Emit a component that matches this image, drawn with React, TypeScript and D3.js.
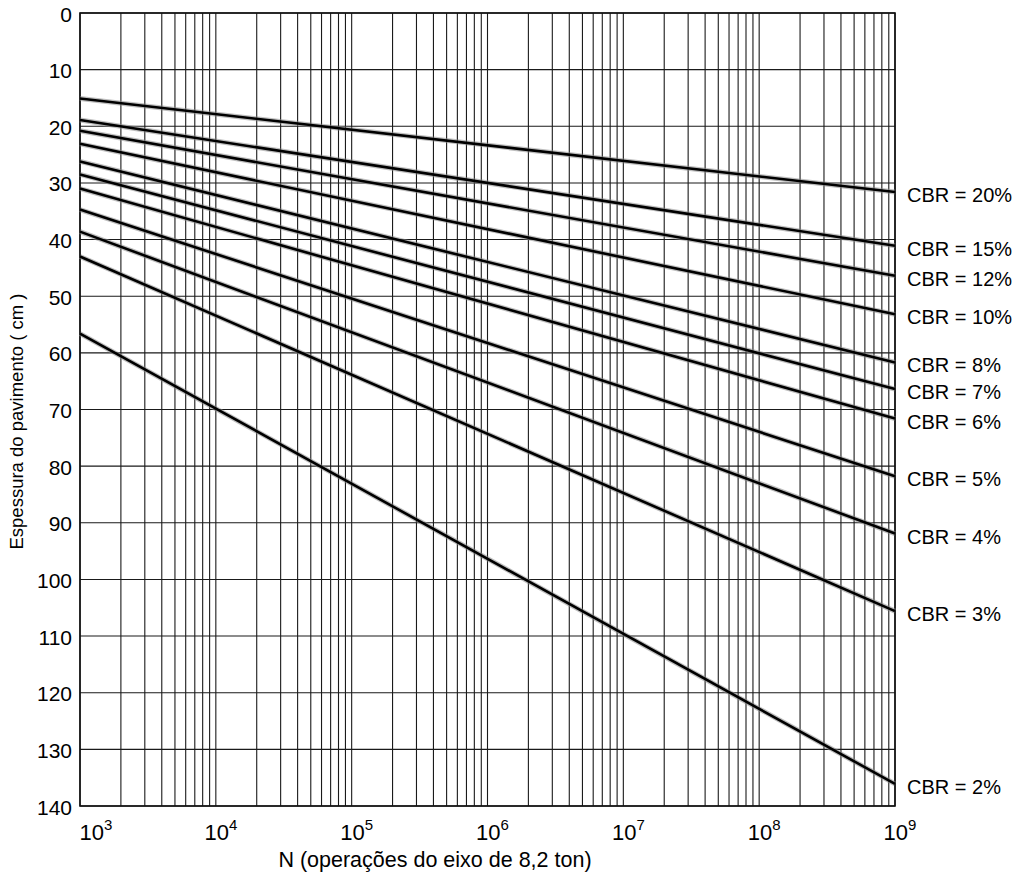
import React from "react";
import * as d3 from "d3";

// Data
const nDomain: [number, number] = [1e3, 1e9];
const cbrLabels = ["20%", "15%", "12%", "10%", "8%", "7%", "6%", "5%", "4%", "3%", "2%"];
const thicknessAtN1e3 = [15.1, 18.9, 20.8, 23.1, 26.2, 28.5, 31.0, 34.7, 38.6, 43.0, 56.6];
const thicknessAtN1e9 = [31.6, 41.1, 46.4, 53.2, 61.7, 66.4, 71.6, 81.8, 91.9, 105.6, 136.1];
const yTickValues = [0, 10, 20, 30, 40, 50, 60, 70, 80, 90, 100, 110, 120, 130, 140];
const xTickExponents = [3, 4, 5, 6, 7, 8, 9];
const xTitle = "N (operações do eixo de 8,2 ton)";
const yTitle = "Espessura do pavimento ( cm )";

const W = 1024;
const H = 882;
const FONT = "'Liberation Sans', Arial, Helvetica, sans-serif";

export default function App() {
  const left = 80, right = 895, top = 13, bottom = 806;
  const x = d3.scaleLog().domain(nDomain).range([left, right]);
  const y = d3.scaleLinear().domain([0, 140]).range([top, bottom]);
  const line = d3
    .line<[number, number]>()
    .x((d) => x(d[0]))
    .y((d) => y(d[1]));

  const series = cbrLabels.map((lab, i) => ({
    label: "CBR = " + lab,
    pts: [
      [nDomain[0], thicknessAtN1e3[i]],
      [nDomain[1], thicknessAtN1e9[i]],
    ] as [number, number][],
  }));

  const vTicks = x.ticks();

  return (
    <svg
      width={W}
      height={H}
      style={{ position: "absolute", left: 0, top: 0, background: "#fff" }}
      fontFamily={FONT}
    >
      <rect x={0} y={0} width={W} height={H} fill="#fff" />
      {/* vertical grid */}
      {vTicks.map((t, i) => (
        <line
          key={"v" + i}
          x1={x(t)}
          x2={x(t)}
          y1={top}
          y2={bottom}
          stroke="#1a1a1a"
          strokeWidth={1.1}
        />
      ))}
      {/* horizontal grid */}
      {yTickValues.map((t) => (
        <line
          key={"h" + t}
          x1={left}
          x2={right}
          y1={y(t)}
          y2={y(t)}
          stroke="#1a1a1a"
          strokeWidth={1.1}
        />
      ))}
      {/* frame */}
      <rect
        x={left}
        y={top}
        width={right - left}
        height={bottom - top}
        fill="none"
        stroke="#111"
        strokeWidth={1.6}
      />
      {/* CBR lines */}
      {series.map((s, i) => (
        <g key={"s" + i}>
          <path d={line(s.pts) || ""} fill="none" stroke="#888" strokeOpacity={0.55} strokeWidth={5} />
          <path d={line(s.pts) || ""} fill="none" stroke="#000" strokeWidth={2.6} />
          <text
            x={right + 12}
            y={y(s.pts[1][1]) + 3}
            dominantBaseline="central"
            fontSize={20}
            fill="#000"
          >
            {s.label}
          </text>
        </g>
      ))}
      {/* y tick labels */}
      {yTickValues.map((t) => (
        <text
          key={"yl" + t}
          x={72}
          y={y(t) + 1}
          textAnchor="end"
          dominantBaseline="central"
          fontSize={21}
          fill="#000"
        >
          {t}
        </text>
      ))}
      {/* x tick labels */}
      {xTickExponents.map((e, i) => {
        const px = x(Math.pow(10, e));
        const cx = i === 0 ? px + 11 : px;
        return (
          <text key={"xl" + e} x={cx + 5} y={840} textAnchor="middle" fontSize={22} fill="#000">
            10
            <tspan dy={-10} fontSize={15}>
              {e}
            </tspan>
          </text>
        );
      })}
      {/* axis titles */}
      <text x={435} y={867} textAnchor="middle" fontSize={21.5} fill="#000">
        {xTitle}
      </text>
      <text
        transform={`translate(23, ${(top + bottom) / 2 + 12}) rotate(-90)`}
        textAnchor="middle"
        fontSize={18.5}
        fill="#000"
      >
        {yTitle}
      </text>
    </svg>
  );
}
